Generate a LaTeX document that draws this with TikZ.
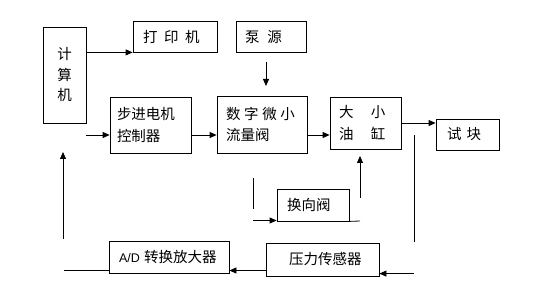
\documentclass[tikz,border=0pt]{standalone}
\usepackage{fontspec}
\setmainfont{Noto Sans CJK SC}
\newfontfamily\latinfont{Liberation Sans}
\usetikzlibrary{arrows.meta}
\begin{document}
\begin{tikzpicture}[x=1pt,y=-1pt,
  box/.style={draw,line width=0.8pt,inner ysep=0pt,align=left,
    font=\fontsize{14.5}{21.5}\selectfont},
  arr/.style={line width=0.8pt,-{Triangle[length=7pt,width=6pt]}},
  ln/.style={line width=0.8pt}]
\useasboundingbox (0,0) rectangle (542,304);
% boxes
\node[box,align=center,inner xsep=0pt,text width=43pt,minimum height=96pt,
  font=\fontsize{14.5}{20.5}\selectfont] (comp) at (64.5,75) {计\\算\\机};
\node[box,inner xsep=10pt,text width=64pt,minimum height=31pt] (printer) at (175,36.5)
  {打\hspace{0.45em}印\hspace{0.45em}机};
\node[box,inner xsep=9pt,text width=52pt,minimum height=31pt] (pump) at (271,37)
  {泵\hspace{0.55em}源};
\node[box,inner xsep=7pt,text width=67pt,minimum height=56pt] (stepper) at (150.5,125)
  {步进电机\\控制器};
\node[box,inner xsep=9pt,text width=72pt,minimum height=57pt] (valve) at (262,124.5)
  {数\hspace{0.25em}字\hspace{0.25em}微\hspace{0.25em}小\\流量阀};
\node[box,inner xsep=9pt,text width=53pt,minimum height=52pt] (cyl) at (365.5,123)
  {大\hspace{1.2em}小\\油\hspace{1.2em}缸};
\node[box,inner xsep=11pt,text width=41pt,minimum height=31pt] (block) at (467.5,134.5)
  {试\hspace{0.35em}块};
\node[box,inner xsep=10pt,text width=52pt,minimum height=32pt] (rev) at (313,205)
  {换向阀};
\node[box,inner xsep=10pt,text width=100pt,minimum height=31.5pt] (ad) at (169,257.25)
  {\mbox{{\latinfont\fontsize{12.5}{14}\selectfont A/D}\hspace{0.3em}转换放大器}};
\node[box,inner xsep=23pt,text width=67pt,minimum height=33pt] (press) at (322.5,259.5)
  {压力传感器};
% free-end coordinates
\coordinate (row) at (0,135);
\coordinate (pa) at (266,62);
\coordinate (pb) at (266,86);
\coordinate (fa) at (414,135);
\coordinate (fb) at (414,242);
\coordinate (fc) at (414,273.6);
\coordinate (qrow) at (0,270.5);
\coordinate (la) at (64,270.5);
\coordinate (ua) at (63,239);
\coordinate (ub) at (63,152);
\coordinate (va) at (253,178);
\coordinate (vb) at (253,209);
\coordinate (vc) at (253,220.5);
\coordinate (wa) at (360,221);
\coordinate (wb) at (360,198);
\coordinate (wc) at (360,156);
% connectors
\draw[arr] (comp.east |- printer.south) -- (printer.south west);
\draw[arr] (pa) -- (pb);
\draw[arr] (comp.east |- row) -- (stepper.west |- row);
\draw[arr] (stepper.east |- row) -- (valve.west |- row);
\draw[arr] (valve.east |- row) -- (cyl.west |- row);
\draw[arr] (cyl.east) -- (block.west |- cyl.east);
\draw[ln] (fa) -- (fb);
\draw[arr] (fc) -- (press.east |- fc);
\draw[arr] (press.west |- qrow) -- (ad.east |- qrow);
\draw[ln] (ad.west |- qrow) -- (la);
\draw[arr] (ua) -- (ub);
\draw[ln] (va) -- (vb);
\draw[arr] (vc) -- (rev.west |- vc);
\draw[ln] (rev.south east) -- (wa);
\draw[arr] (wb) -- (wc);
\end{tikzpicture}
\end{document}
